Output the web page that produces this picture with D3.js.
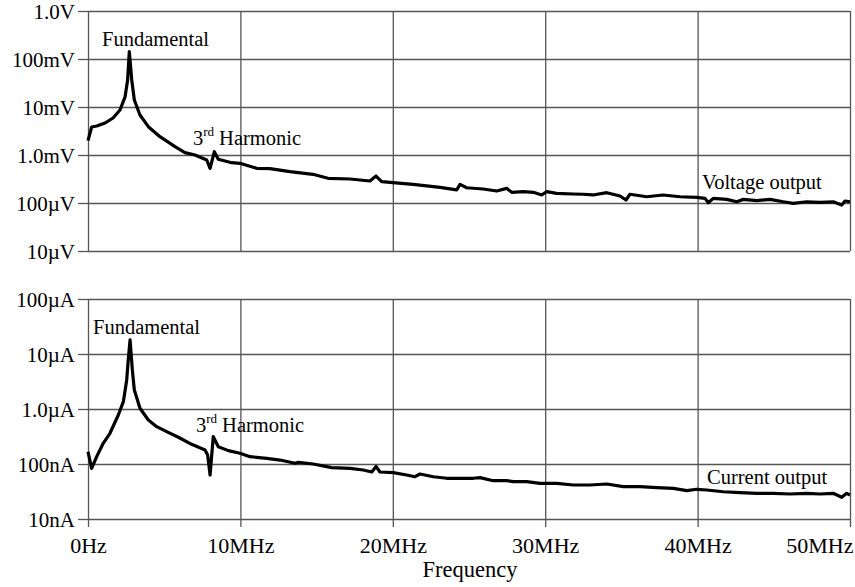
<!DOCTYPE html>
<html>
<head>
<meta charset="utf-8">
<script src="https://d3js.org/d3.v7.min.js"></script>
<style>
  body { margin:0; background:white; }
  svg text { font-family:"Liberation Serif","Times New Roman",serif; fill:black; }
  .ylab text { font-size:21px; }
  .xlab text { font-size:22px; }
  .note { font-size:20.5px; }
  .sup { font-size:13px; }
  .grid line { stroke:#555; stroke-width:1.3; }
  .grid path { stroke:none; }
  .ax line { stroke:#555; stroke-width:1.3; }
  .ax path { stroke:none; }
</style>
</head>
<body>
<script>
// frequencies in MHz, values in volts / amps
var voltFreq = [0,0.24,0.57,1.12,1.64,2.10,2.43,2.60,2.71,2.87,3.04,3.41,3.96,4.72,5.71,6.36,7.02,7.79,8.01,8.29,8.55,9.43,9.97,
  11.07,11.94,13.25,14.76,15.75,17.19,18.50,18.90,19.27,20.01,21.33,23.10,24.19,24.41,24.85,25.92,26.82,27.47,27.80,28.56,29.22,29.77,
  30.10,30.75,31.82,32.48,33.14,34.04,34.91,35.30,35.56,36.66,37.73,38.85,39.94,40.49,40.70,41.03,41.91,42.57,43.00,43.88,44.75,
  45.62,46.28,47.16,48.03,48.90,49.46,49.67,50];
var voltValue = [2.0e-3,3.83e-3,4.02e-3,4.64e-3,5.9e-3,8.66e-3,16.2e-3,36.5e-3,142e-3,36.5e-3,14.0e-3,6.8e-3,3.89e-3,2.41e-3,1.49e-3,1.12e-3,1.0e-3,0.787e-3,0.528e-3,1.17e-3,0.813e-3,0.691e-3,0.671e-3,
  0.528e-3,0.52e-3,0.449e-3,0.396e-3,0.327e-3,0.316e-3,0.287e-3,0.365e-3,0.278e-3,0.265e-3,0.245e-3,0.212e-3,0.187e-3,0.245e-3,0.208e-3,0.196e-3,0.178e-3,0.202e-3,0.167e-3,0.172e-3,0.167e-3,0.147e-3,
  0.172e-3,0.159e-3,0.154e-3,0.152e-3,0.147e-3,0.164e-3,0.140e-3,0.1155e-3,0.152e-3,0.135e-3,0.147e-3,0.135e-3,0.131e-3,0.125e-3,0.101e-3,0.125e-3,0.119e-3,0.106e-3,0.119e-3,0.112e-3,0.119e-3,
  0.106e-3,0.0986e-3,0.106e-3,0.103e-3,0.106e-3,0.0908e-3,0.110e-3,0.106e-3];

var currFreq = [0,0.24,0.57,1.0,1.44,1.99,2.32,2.54,2.64,2.76,2.91,3.04,3.41,3.96,4.51,5.16,5.93,6.80,7.68,7.85,8.01,8.22,8.55,9.21,9.97,
  10.63,11.73,12.60,13.58,13.80,14.78,15.99,17.19,18.06,18.62,18.90,19.16,20.03,20.91,21.46,21.78,22.66,23.54,24.41,25.28,25.72,26.59,27.47,27.91,28.79,29.66,
  30.75,31.84,32.94,34.04,35.12,36.22,37.32,38.41,39.29,39.94,40.60,41.69,42.78,43.88,44.97,46.06,47.16,48.03,48.90,49.46,49.78,50];
var currValue = [167e-9,83.5e-9,136e-9,238e-9,362e-9,778e-9,1.36e-6,3.37e-6,7.78e-6,18.0e-6,5.12e-6,2.21e-6,1.03e-6,631e-9,477e-9,387e-9,306e-9,228e-9,180e-9,146e-9,63e-9,314e-9,206e-9,175e-9,157e-9,
  136e-9,127e-9,118e-9,103e-9,107e-9,100e-9,85.7e-9,83.5e-9,77.8e-9,71.6e-9,90e-9,71.6e-9,69.5e-9,63.1e-9,58.7e-9,65.8e-9,58.7e-9,55e-9,55e-9,55e-9,56.4e-9,49.7e-9,49.7e-9,47.7e-9,47.7e-9,44.6e-9,
  44.6e-9,41.5e-9,41.5e-9,43.3e-9,38.7e-9,38.7e-9,37.1e-9,36.1e-9,32.7e-9,34.7e-9,33.7e-9,31.3e-9,30.1e-9,29.3e-9,29.3e-9,28.5e-9,29.3e-9,28.5e-9,29.3e-9,24.8e-9,29.3e-9,27.3e-9];

var freqTicks = [0,10,20,30,40,50];
var freqTickLabels = ["0Hz","10MHz","20MHz","30MHz","40MHz","50MHz"];
var voltTicks = [1e-5,1e-4,1e-3,1e-2,1e-1,1];
var voltTickLabels = ["10\u00b5V","100\u00b5V","1.0mV","10mV","100mV","1.0V"];
var currTicks = [1e-8,1e-7,1e-6,1e-5,1e-4];
var currTickLabels = ["10nA","100nA","1.0\u00b5A","10\u00b5A","100\u00b5A"];

var width = 855, height = 587;
var left = 88, right = 850;
var svg = d3.select("body").append("svg").attr("width", width).attr("height", height);

var x = d3.scaleLinear().domain([0, 50]).range([left, right]);

function panel(top, bottom, yDomain, yTicks, yLabels, freq, vals) {
  var y = d3.scaleLog().domain(yDomain).range([bottom, top]);
  var g = svg.append("g");

  // horizontal grid
  g.append("g").attr("class", "grid").attr("transform", "translate(" + left + ",0)")
    .call(d3.axisLeft(y).tickValues(yTicks).tickSize(-(right - left)).tickFormat(""));
  // vertical grid
  g.append("g").attr("class", "grid").attr("transform", "translate(0," + bottom + ")")
    .call(d3.axisBottom(x).tickValues(freqTicks).tickSize(-(bottom - top)).tickFormat(""));

  // y ticks and labels
  g.append("g").attr("class", "ax ylab").attr("transform", "translate(" + left + ",0)")
    .call(d3.axisLeft(y).tickValues(yTicks).tickSize(10).tickPadding(3)
      .tickFormat(function(d, i) { return yLabels[i]; }))
    .attr("font-family", null)
    .selectAll("text").attr("dy", "0.36em");

  var line = d3.line().x(function(d, i) { return x(freq[i]); }).y(function(d) { return y(d); });
  g.append("path").datum(vals).attr("d", line)
    .attr("fill", "none").attr("stroke", "black").attr("stroke-width", 3.2).attr("stroke-linejoin", "round");
  return g;
}

panel(11, 251, [1e-5, 1], voltTicks, voltTickLabels, voltFreq, voltValue);
panel(299, 519, [1e-8, 1e-4], currTicks, currTickLabels, currFreq, currValue);

// x axis under the lower panel
var xa = svg.append("g").attr("class", "ax xlab").attr("transform", "translate(0,519)")
  .call(d3.axisBottom(x).tickValues(freqTicks).tickSize(8).tickPadding(0)
    .tickFormat(function(d, i) { return freqTickLabels[i]; }))
  .attr("font-family", null);
xa.selectAll("text").attr("y", 34).attr("dy", 0);
xa.selectAll(".tick").filter(function(d) { return d === 50; }).select("text")
  .attr("text-anchor", "end").attr("x", 3);

svg.append("text").attr("x", 470).attr("y", 577)
  .attr("text-anchor", "middle").style("font-size", "22.5px").text("Frequency");

function note(x0, y0, s) {
  svg.append("text").attr("class", "note").attr("x", x0).attr("y", y0).text(s);
}
function harmonic(x0, y0) {
  var t = svg.append("text").attr("class", "note").attr("x", x0).attr("y", y0);
  t.append("tspan").text("3");
  t.append("tspan").attr("class", "sup").attr("dy", -9).text("rd");
  t.append("tspan").attr("dy", 9).attr("dx", 5).text("Harmonic");
}
note(102, 46, "Fundamental");
harmonic(193, 145);
note(702, 189, "Voltage output");
note(93, 334, "Fundamental");
harmonic(196, 432);
note(707, 484, "Current output");
</script>
</body>
</html>
